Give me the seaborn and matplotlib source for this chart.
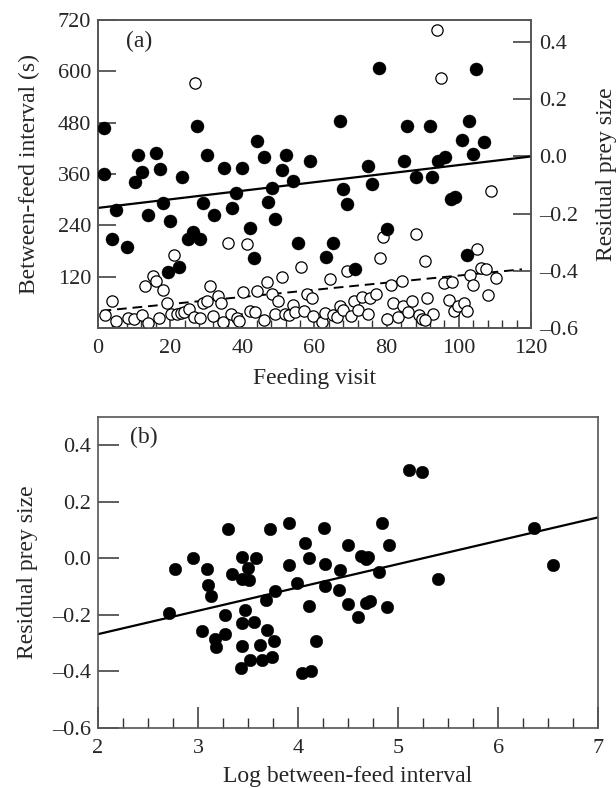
import matplotlib
matplotlib.use("Agg")
import matplotlib.pyplot as plt
import seaborn as sns
import numpy as np
from matplotlib.ticker import MultipleLocator, FuncFormatter

# Panel (a): between-feed interval (open circles, left axis)
visit_interval = [1.9, 3.8, 4.9, 8.4, 10.1, 12.1, 13.0, 13.9, 15.3, 16.0, 17.0, 18.1, 19.0, 20.2,
                  21.1, 21.8, 22.9, 23.9, 25.2, 26.6, 26.9, 28.3, 29.2, 30.1, 31.1, 32.0, 33.3, 34.1,
                  34.7, 36.1, 36.9, 38.4, 39.2, 40.3, 41.2, 42.1, 43.5, 44.0, 46.1, 46.8, 48.1, 49.1,
                  50.0, 51.1, 51.8, 52.9, 54.1, 54.6, 56.3, 57.2, 58.0, 59.2, 59.7, 62.0, 62.9, 64.3,
                  65.2, 66.2, 67.1, 68.0, 69.1, 70.0, 71.0, 72.2, 73.1, 74.9, 75.4, 77.0, 78.2, 79.1,
                  80.0, 81.2, 81.8, 83.1, 84.2, 84.6, 85.8, 87.0, 88.1, 89.1, 89.9, 90.6, 91.1, 92.9,
                  93.9, 95.0, 96.0, 97.3, 98.0, 98.8, 99.9, 101.3, 102.2, 103.1, 104.0, 105.0, 106.2,
                  107.5, 108.0, 108.9, 110.2, 90.6]
interval_s = [30, 63, 16, 24, 20, 30, 98, 11, 122, 110, 23, 89, 58, 32,
              171, 33, 34, 38, 44, 26, 572, 24, 58, 62, 97, 28, 75, 59,
              15, 198, 32, 23, 17, 84, 196, 40, 38, 87, 19, 108, 79, 33,
              62, 120, 33, 30, 54, 37, 142, 40, 79, 69, 29, 13, 34, 114,
              30, 25, 51, 42, 133, 28, 62, 42, 73, 33, 71, 79, 163, 212,
              20, 101, 58, 26, 110, 51, 38, 64, 220, 30, 20, 157, 69, 33,
              697, 585, 106, 66, 108, 40, 51, 58, 40, 124, 101, 185, 140,
              137, 76, 319, 116, 19]

# Panel (a): residual prey size (filled circles, right axis)
visit_prey = [1.8, 1.7, 4.0, 4.9, 8.0, 10.3, 11.0, 12.3, 13.9, 16.0, 17.2, 18.1, 20.0, 19.5,
              22.5, 23.2, 25.0, 26.3, 28.3, 27.4, 29.0, 30.1, 32.2, 35.0, 37.1, 38.2, 40.0, 42.1,
              43.3, 44.0, 46.1, 47.0, 48.3, 49.1, 50.9, 52.0, 54.1, 55.4, 58.8, 63.2, 65.1, 67.1,
              68.0, 69.1, 71.2, 74.9, 75.9, 78.0, 80.0, 84.9, 85.7, 88.1, 92.0, 92.7, 94.2, 96.2,
              97.8, 99.0, 101.0, 102.8, 104.0, 104.8, 107.1, 102.2]
resid_prey = [0.100, -0.061, -0.288, -0.189, -0.315, -0.088, 0.006, -0.055, -0.204, 0.012,
              -0.043, -0.163, -0.225, -0.403, -0.385, -0.073, -0.289, -0.263, -0.288, 0.108,
              -0.163, 0.006, -0.204, -0.041, -0.181, -0.128, -0.041, -0.251, -0.356, 0.053,
              -0.002, -0.158, -0.111, -0.219, -0.049, 0.004, -0.085, -0.301, -0.017, -0.350,
              -0.303, 0.123, -0.114, -0.167, -0.394, -0.035, -0.096, 0.310, -0.252, -0.017,
              0.108, -0.072, 0.108, -0.073, -0.017, -0.003, -0.149, -0.142, 0.056, 0.125,
              0.008, 0.306, 0.051, -0.344]

# Fitted lines
fit_a_interval_x = [1, 117.5]
fit_a_interval_y = [40, 137]
fit_a_prey_x = [0, 120]
fit_a_prey_y = [-0.18, 0.0]

# Panel (b): residual prey size vs log between-feed interval
log_interval = [2.71, 2.77, 2.95, 3.09, 3.10, 3.13, 3.04, 3.17, 3.18, 3.27, 3.27, 3.30, 3.34,
                3.44, 3.44, 3.50, 3.51, 3.47, 3.44, 3.44, 3.43, 3.56, 3.52, 3.58, 3.62, 3.64,
                3.68, 3.69, 3.74, 3.76, 3.77, 3.72, 3.91, 3.91, 3.99, 4.07, 4.11, 4.11, 4.04,
                4.13, 4.18, 4.26, 4.27, 4.27, 4.42, 4.41, 4.50, 4.50, 4.60, 4.63, 4.70, 4.68,
                4.68, 4.72, 4.81, 4.84, 4.91, 4.89, 5.11, 5.24, 5.40, 6.36, 6.55]
resid_b = [-0.193, -0.039, 0.000, -0.039, -0.093, -0.133, -0.258, -0.285, -0.314, -0.267,
           -0.202, 0.104, -0.055, 0.004, -0.072, -0.035, -0.076, -0.182, -0.229, -0.311,
           -0.388, -0.226, -0.359, 0.001, -0.308, -0.359, -0.147, -0.253, -0.349, -0.293,
           -0.116, 0.104, 0.124, -0.024, -0.088, 0.053, 0.002, -0.170, -0.404, -0.399,
           -0.292, 0.106, -0.019, -0.099, -0.041, -0.112, 0.049, -0.162, -0.208, 0.008,
           0.006, -0.002, -0.159, -0.149, -0.049, 0.125, 0.049, -0.171, 0.312, 0.305,
           -0.073, 0.108, -0.025]
fit_b_x = [2, 7]
fit_b_y = [-0.268, 0.145]

sns.set_style("ticks")
plt.rcParams['font.family'] = ['Liberation Serif', 'DejaVu Serif']
plt.rcParams['axes.edgecolor'] = '#555555'
plt.rcParams['axes.linewidth'] = 1.2

TICK_FS = 16
LABEL_FS = 17

dash_fmt = FuncFormatter(lambda v, p: f"{v:.1f}".replace('-', '\u2013'))

fig = plt.figure(figsize=(6.16, 7.88), dpi=100)

# ---- panel (a)
ax = fig.add_axes([0.159, 0.5838, 0.703, 0.391])
ax2 = ax.twinx()

sns.scatterplot(x=visit_interval, y=interval_s, ax=ax, s=66, facecolor='white',
                edgecolor='black', linewidth=0.9, zorder=3)
ax.plot(fit_a_interval_x, fit_a_interval_y, color='black', lw=1.4, ls=(0, (5, 3)), zorder=2)

sns.scatterplot(x=visit_prey, y=resid_prey, ax=ax2, s=88, color='black',
                edgecolor='black', linewidth=0.3, zorder=3)
ax2.plot(fit_a_prey_x, fit_a_prey_y, color='black', lw=1.6, zorder=2)

ax.set_xlim(0, 120)
ax.set_ylim(0, 720)
ax2.set_ylim(-0.6, 0.478)
ax.set_xticks(range(0, 121, 20))
ax.xaxis.set_minor_locator(MultipleLocator(4))
ax.set_yticks(range(120, 721, 120))
ax2.set_yticks([-0.6, -0.4, -0.2, 0.0, 0.2, 0.4])
ax2.yaxis.set_major_formatter(dash_fmt)

ax.tick_params(axis='x', which='major', direction='in', length=11, width=1.1,
               labelsize=TICK_FS, pad=8, color='#333333')
ax.tick_params(axis='x', which='minor', direction='in', length=6, width=1.0, color='#333333')
ax.tick_params(axis='y', direction='in', length=13, width=1.1, labelsize=TICK_FS, pad=5,
               color='#333333')
ax2.tick_params(axis='y', direction='in', length=13, width=1.1, labelsize=TICK_FS, pad=6,
                color='#333333')

ax.set_xlabel('Feeding visit', fontsize=LABEL_FS, labelpad=7)
ax.set_ylabel('Between-feed interval (s)', fontsize=LABEL_FS, labelpad=13)
ax2.set_ylabel('Residual prey size', fontsize=LABEL_FS, labelpad=13)
ax.text(0.065, 0.93, '(a)', transform=ax.transAxes, fontsize=LABEL_FS, va='center')

# ---- panel (b)
bx = fig.add_axes([0.159, 0.0761, 0.812, 0.3947])
sns.scatterplot(x=log_interval, y=resid_b, ax=bx, s=82, color='black',
                edgecolor='black', linewidth=0.3, zorder=3)
bx.plot(fit_b_x, fit_b_y, color='black', lw=1.6, zorder=2)

bx.set_xlim(2, 7)
bx.set_ylim(-0.6, 0.5)
bx.set_xticks(range(2, 8))
bx.xaxis.set_minor_locator(MultipleLocator(0.25))
bx.set_yticks([-0.6, -0.4, -0.2, 0.0, 0.2, 0.4])
bx.yaxis.set_major_formatter(dash_fmt)
bx.tick_params(axis='x', which='major', direction='in', length=15, width=1.1,
               labelsize=TICK_FS, pad=8, color='#333333')
bx.tick_params(axis='x', which='minor', direction='in', length=7, width=1.0, color='#333333')
bx.tick_params(axis='y', direction='in', length=15, width=1.1, labelsize=TICK_FS, pad=5,
               color='#333333')
bx.set_xlabel('Log between-feed interval', fontsize=LABEL_FS, labelpad=6)
bx.set_ylabel('Residual prey size', fontsize=LABEL_FS, labelpad=10)
bx.text(0.065, 0.935, '(b)', transform=bx.transAxes, fontsize=LABEL_FS, va='center')

fig.savefig('out.png', dpi=100)
